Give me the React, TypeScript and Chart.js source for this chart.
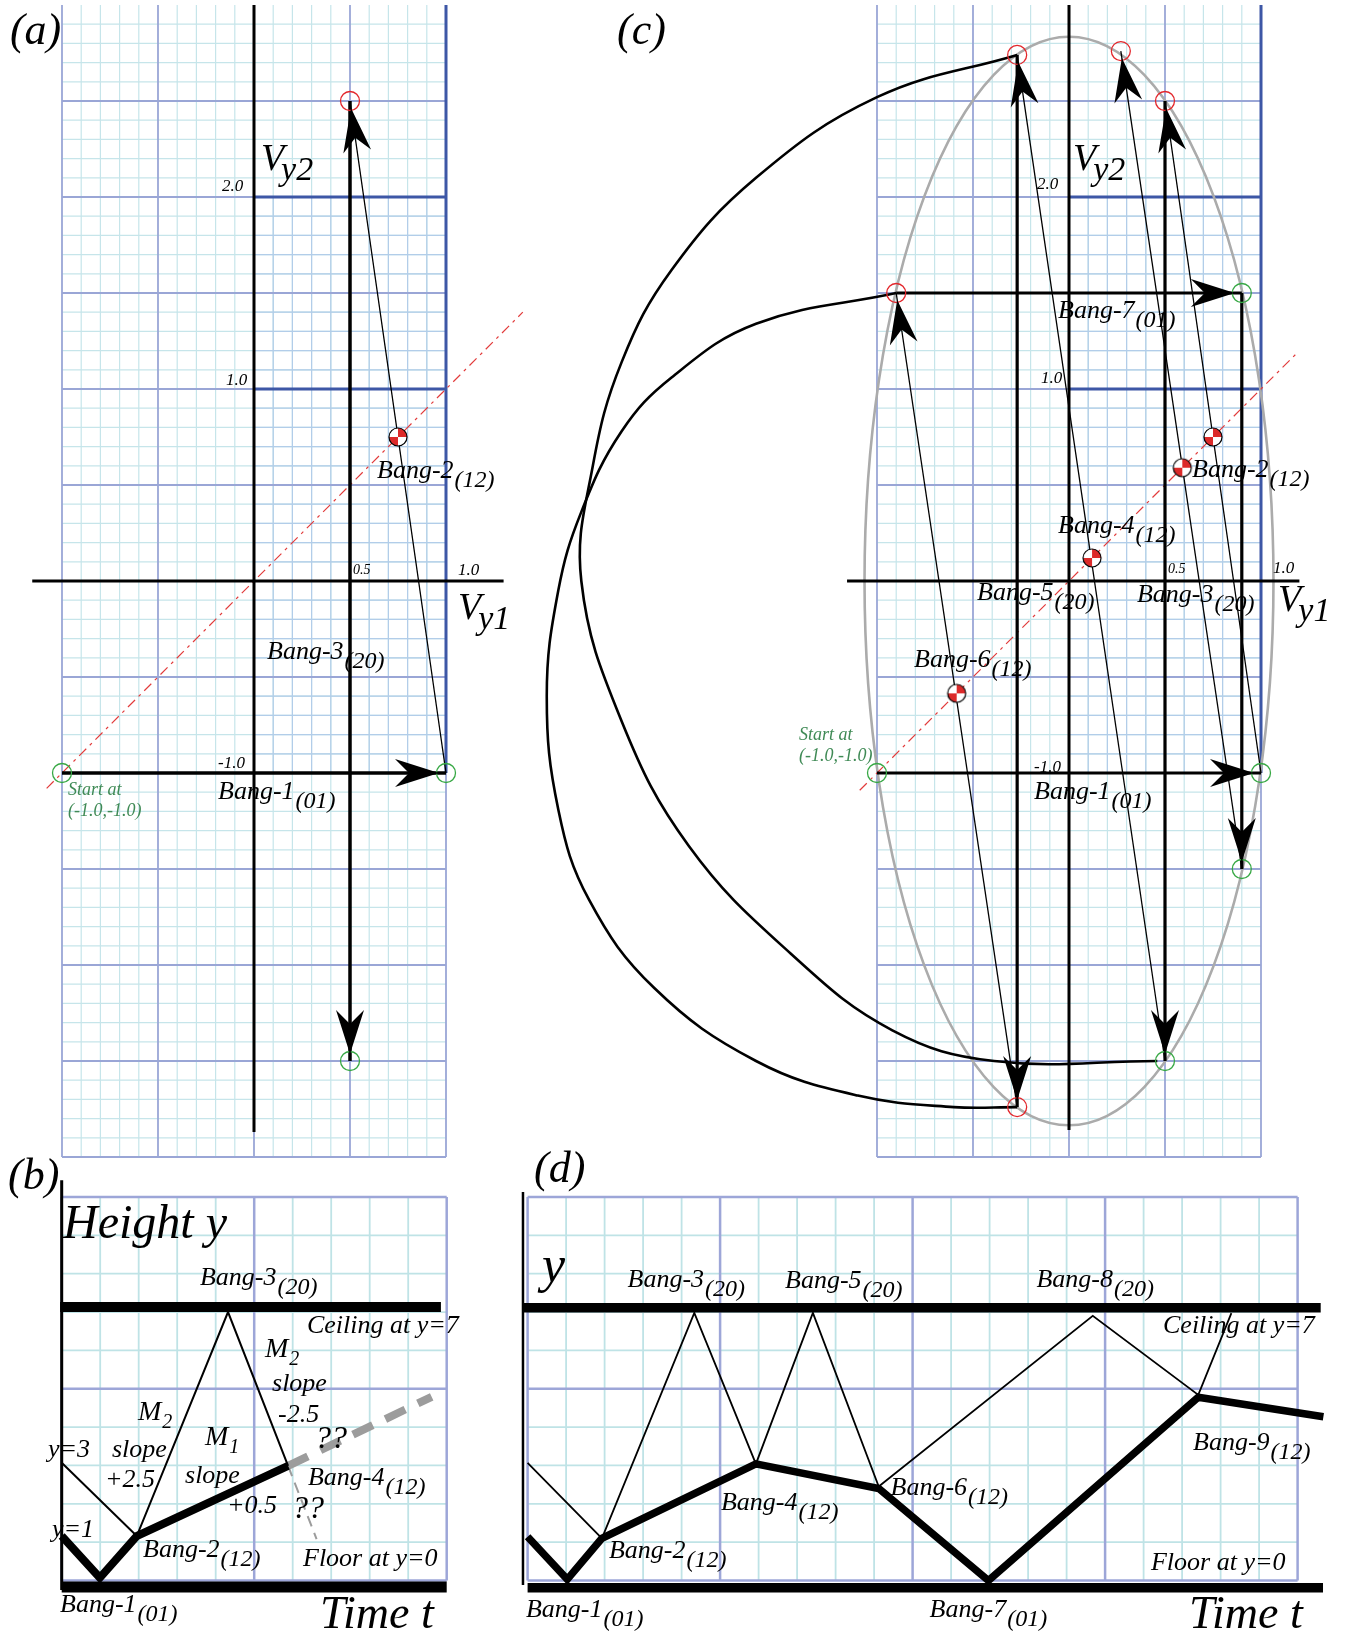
import React, { useEffect, useRef } from 'react';
import { Chart, registerables } from 'chart.js';

Chart.register(...registerables);

const FONT = "'Liberation Serif', 'Times New Roman', serif";
const BLACK = '#000000';
const RED = '#e3262b';
const GREEN = '#37a844';
const DIAG = '#e23b3b';
const ELLIPSE_GRAY = '#ababab';
const GUESS_GRAY = '#9c9c9c';

// ---------------- Panel (a): velocity plane (Vy1, Vy2), first three bangs ----------------
const A_AXIS_VY1 = [[-1.155, 0], [1.3, 0]];
const A_AXIS_VY2 = [[0, 3.0], [0, -2.87]];
const A_DIAGONAL = [[-1.08, -1.08], [1.4, 1.4]];
const A_BANG1 = [[-1, -1], [1, -1]];
const A_BANG2 = [[1, -1], [0.5, 2.5]];
const A_BANG3 = [[0.5, 2.5], [0.5, -2.5]];
const A_CENTRE_OF_MASS = [[0.75, 0.75]];
const A_RED_STATES = [[0.5, 2.5]];
const A_GREEN_STATES = [[-1, -1], [1, -1], [0.5, -2.5]];

// ---------------- Panel (c): velocity plane, bangs 1..9 ----------------
const C_AXIS_VY1 = [[-1.156, 0], [1.2, 0]];
const C_AXIS_VY2 = [[0, 3.0], [0, -2.86]];
const C_DIAGONAL = [[-1.09, -1.09], [1.19, 1.19]];
const C_BANG1 = [[-1, -1], [1, -1]];
const C_BANG2 = [[1, -1], [0.5, 2.5]];
const C_BANG3 = [[0.5, 2.5], [0.5, -2.5]];
const C_BANG4 = [[0.5, -2.5], [-0.27, 2.74]];
const C_BANG5 = [[-0.27, 2.74], [-0.27, -2.74]];
const C_BANG6 = [[-0.27, -2.74], [-0.9, 1.5]];
const C_BANG7 = [[-0.9, 1.5], [0.9, 1.5]];
const C_BANG8 = [[0.9, 1.5], [0.9, -1.5]];
const C_BANG9 = [[0.9, -1.5], [0.27, 2.76]];
const C_CENTRE_OF_MASS = [[0.75, 0.75], [0.12, 0.12], [-0.585, -0.585], [0.59, 0.59]];
const C_RED_STATES = [[0.5, 2.5], [-0.27, 2.74], [0.27, 2.76], [-0.9, 1.5], [-0.27, -2.74]];
const C_GREEN_STATES = [[-1, -1], [1, -1], [0.5, -2.5], [0.9, 1.5], [0.9, -1.5]];
const C_ARC_UPPER = [
  [-0.27, 2.74], [-1.0, 2.52], [-1.63, 2.1], [-2.07, 1.62], [-2.33, 1.14], [-2.48, 0.6],
  [-2.54, 0.0], [-2.33, -0.73], [-1.98, -1.38], [-1.45, -1.94], [-0.92, -2.34], [-0.39, -2.5],
  [0.46, -2.5],
];
const C_ARC_LOWER = [
  [-0.9, 1.5], [-1.63, 1.34], [-2.07, 1.06], [-2.33, 0.78], [-2.54, 0.36],
  [-2.66, -0.05], [-2.72, -0.6], [-2.66, -1.19], [-2.5, -1.66], [-2.16, -2.12], [-1.63, -2.5],
  [-1.1, -2.68], [-0.6, -2.74], [-0.27, -2.74],
];
const C_ENERGY_ELLIPSE = { cx: 0, cy: 0, rx: 1.065, ry: 2.835 };

// ---------------- Panel (b): height vs time, bangs 1..4 ----------------
const B_AXIS_Y = [[0, 10.44], [0, -0.25]];
const B_CEILING = [[-0.04, 7.13], [9.85, 7.13]];
const B_FLOOR = [[0, -0.17], [10, -0.17]];
const B_BALL1 = [[0, 1.16], [0.99, 0.07], [1.95, 1.16], [5.88, 2.99]];
const B_BALL2 = [[0, 3.07], [1.95, 1.16], [4.32, 7.0], [5.88, 2.99]];
const B_BALL1_GUESS = [[5.88, 2.99], [9.61, 4.79]];
const B_BALL2_GUESS = [[5.88, 2.99], [6.62, 1.08]];

// ---------------- Panel (d): height vs time, bangs 1..9 ----------------
const D_AXIS_Y = [[-0.12, 10.13], [-0.12, -0.12]];
const D_CEILING = [[-0.12, 7.11], [20.6, 7.11]];
const D_FLOOR = [[0, -0.19], [20.66, -0.19]];
const D_BALL1 = [
  [0, 1.14], [1.03, 0.03], [1.93, 1.1], [5.93, 3.04], [9.12, 2.4], [11.97, 0.0], [17.42, 4.78], [20.67, 4.27],
];
const D_BALL2 = [
  [0, 3.07], [1.93, 1.1], [4.33, 6.98], [5.93, 3.04], [7.41, 6.98], [9.12, 2.45], [14.68, 6.9], [17.42, 4.84], [18.28, 6.97],
];

// ---------------- Text ----------------
const LABELS_A = [
  { k: 'panel', t: '(a)', x: -1.271, y: 2.797 },
  { k: 'axis', t: 'V', s: 'y2', x: 0.036, y: 2.141 },
  { k: 'tick', t: '2.0', x: -0.167, y: 2.031 },
  { k: 'tick', t: '1.0', x: -0.146, y: 1.021 },
  { k: 'tickS', t: '0.5', x: 0.516, y: 0.036 },
  { k: 'tick', t: '1.0', x: 1.0625, y: 0.031 },
  { k: 'axis', t: 'V', s: 'y1', x: 1.0625, y: -0.198 },
  { k: 'bang', t: 'Bang-2', s: '(12)', x: 0.641, y: 0.536 },
  { k: 'bang', t: 'Bang-3', s: '(20)', x: 0.068, y: -0.406 },
  { k: 'tick', t: '-1.0', x: -0.1875, y: -0.974 },
  { k: 'bang', t: 'Bang-1', s: '(01)', x: -0.1875, y: -1.135 },
  { k: 'start', t: 'Start at', x: -0.969, y: -1.115 },
  { k: 'start', t: '(-1.0,-1.0)', x: -0.969, y: -1.224 },
];
const LABELS_C = [
  { k: 'panel', t: '(c)', x: -2.354, y: 2.797 },
  { k: 'axis', t: 'V', s: 'y2', x: 0.021, y: 2.141 },
  { k: 'tick', t: '2.0', x: -0.167, y: 2.042 },
  { k: 'tick', t: '1.0', x: -0.146, y: 1.031 },
  { k: 'bang', t: 'Bang-7', s: '(01)', x: -0.057, y: 1.37 },
  { k: 'bang', t: 'Bang-2', s: '(12)', x: 0.641, y: 0.542 },
  { k: 'bang', t: 'Bang-4', s: '(12)', x: -0.057, y: 0.25 },
  { k: 'tickS', t: '0.5', x: 0.516, y: 0.042 },
  { k: 'tick', t: '1.0', x: 1.0625, y: 0.042 },
  { k: 'bang', t: 'Bang-5', s: '(20)', x: -0.479, y: -0.099 },
  { k: 'bang', t: 'Bang-3', s: '(20)', x: 0.354, y: -0.109 },
  { k: 'axis', t: 'V', s: 'y1', x: 1.089, y: -0.156 },
  { k: 'bang', t: 'Bang-6', s: '(12)', x: -0.807, y: -0.448 },
  { k: 'start', t: 'Start at', x: -1.406, y: -0.828 },
  { k: 'start', t: '(-1.0,-1.0)', x: -1.406, y: -0.9375 },
  { k: 'tick', t: '-1.0', x: -0.182, y: -0.995 },
  { k: 'bang', t: 'Bang-1', s: '(01)', x: -0.182, y: -1.135 },
];
const LABELS_B = [
  { k: 'panel', t: '(b)', x: -1.395, y: 10.21 },
  { k: 'big', t: 'Height y', x: 0.034, y: 8.93 },
  { k: 'bang', t: 'Bang-3', s: '(20)', x: 3.592, y: 7.705 },
  { k: 'note', t: 'Ceiling at y=7', x: 6.371, y: 6.454 },
  { k: 'm', t: 'M', s: '2', x: 5.281, y: 5.828 },
  { k: 'note', t: 'slope', x: 5.463, y: 4.941 },
  { k: 'note', t: '-2.5', x: 5.618, y: 4.133 },
  { k: 'q', t: '??', x: 6.579, y: 3.455 },
  { k: 'm', t: 'M', s: '2', x: 1.982, y: 4.185 },
  { k: 'note', t: 'slope', x: 1.306, y: 3.22 },
  { k: 'note', t: '+2.5', x: 1.125, y: 2.438 },
  { k: 'm', t: 'M', s: '1', x: 3.722, y: 3.533 },
  { k: 'note', t: 'slope', x: 3.203, y: 2.542 },
  { k: 'note', t: '+0.5', x: 4.294, y: 1.76 },
  { k: 'note', t: 'y=3', x: -0.356, y: 3.22 },
  { k: 'bang', t: 'Bang-4', s: '(12)', x: 6.397, y: 2.49 },
  { k: 'q', t: '??', x: 5.982, y: 1.63 },
  { k: 'note', t: 'y=1', x: -0.252, y: 1.134 },
  { k: 'bang', t: 'Bang-2', s: '(12)', x: 2.112, y: 0.613 },
  { k: 'note', t: 'Floor at y=0', x: 6.268, y: 0.378 },
  { k: 'bang', t: 'Bang-1', s: '(01)', x: -0.044, y: -0.821 },
  { k: 'time', t: 'Time t', x: 6.709, y: -1.239 },
];
const LABELS_D = [
  { k: 'panel', t: '(d)', x: 0.166, y: 10.39 },
  { k: 'ylab', t: 'y', x: 0.374, y: 7.78 },
  { k: 'bang', t: 'Bang-3', s: '(20)', x: 2.597, y: 7.653 },
  { k: 'bang', t: 'Bang-5', s: '(20)', x: 6.686, y: 7.627 },
  { k: 'bang', t: 'Bang-8', s: '(20)', x: 13.218, y: 7.653 },
  { k: 'note', t: 'Ceiling at y=7', x: 16.504, y: 6.454 },
  { k: 'bang', t: 'Bang-9', s: '(12)', x: 17.283, y: 3.403 },
  { k: 'bang', t: 'Bang-6', s: '(12)', x: 9.426, y: 2.229 },
  { k: 'bang', t: 'Bang-4', s: '(12)', x: 5.023, y: 1.838 },
  { k: 'bang', t: 'Bang-2', s: '(12)', x: 2.114, y: 0.587 },
  { k: 'note', t: 'Floor at y=0', x: 16.192, y: 0.274 },
  { k: 'bang', t: 'Bang-1', s: '(01)', x: -0.042, y: -0.952 },
  { k: 'bang', t: 'Bang-7', s: '(01)', x: 10.442, y: -0.952 },
  { k: 'time', t: 'Time t', x: 17.179, y: -1.239 },
];

const KINDS: any = {
  panel: { size: 44 },
  axis: { size: 38, sub: 34, dx: -3, dy: 10 },
  tick: { size: 17 },
  tickS: { size: 14 },
  bang: { size: 26, sub: 24, dx: 1, dy: 9 },
  start: { size: 18, color: '#3f8a55' },
  note: { size: 26 },
  m: { size: 28, sub: 20, dx: 1, dy: 8 },
  q: { size: 32 },
  big: { size: 48 },
  time: { size: 46 },
  ylab: { size: 52 },
};

// ---------------- Layout (pixels) ----------------
const LAYOUT: any = {
  a: { left: 0, top: 0, w: 525, h: 1160, ox: 254, oy: 581, ux: 192, uy: 192 },
  c: { left: 520, top: 0, w: 828, h: 1160, ox: 549, oy: 581, ux: 192, uy: 192 },
  b: { left: 0, top: 1150, w: 520, h: 488, ox: 61.7, oy: 430.5, ux: 38.5, uy: 38.35 },
  d: { left: 505, top: 1140, w: 843, h: 498, ox: 22.6, oy: 440.5, ux: 38.5, uy: 38.35 },
};

const PAPER_VEL = {
  x0: -1, x1: 1, y0: -3, y1: 3, minor: 0.1, major: 0.5, skipTop: true,
  minorColor: '#c6e5ea', minorW: 1.2, majorColor: '#9aa6d6', majorW: 1.8,
  accent: { x0: 0, x1: 1, y0: -1, y1: 2, color: '#b2cde9' },
  dark: [[1, -1, 1, 3], [0, 1, 1, 1], [0, 2, 1, 2]], darkColor: '#3d57a6', darkW: 3,
};
const PAPER_B = {
  x0: 0, x1: 10, y0: 0, y1: 10, minor: 1, major: 5,
  minorColor: '#bfe3e6', minorW: 1.8, majorColor: '#9da6d8', majorW: 2.5,
};
const PAPER_D = { ...PAPER_B, x1: 20 };

// ---------------- helpers ----------------
const P = (arr: number[][]) => arr.map(([x, y]) => ({ x, y }));

function line(data: number[][], width: number, color = BLACK, extra: any = {}) {
  return {
    data: P(data), showLine: true, borderColor: color, borderWidth: width,
    pointRadius: 0, pointHoverRadius: 0, fill: false, tension: 0, clip: false,
    borderCapStyle: 'butt', borderJoinStyle: 'miter', ...extra,
  };
}
function rings(data: number[][], color: string) {
  return {
    data: P(data), showLine: false, pointStyle: 'circle', pointRadius: 9.5,
    pointHoverRadius: 9.5, pointBorderColor: color, pointBackgroundColor: 'rgba(0,0,0,0)',
    pointBorderWidth: 1.3, clip: false,
  };
}
function checkers(data: number[][], img: HTMLCanvasElement) {
  return { data: P(data), showLine: false, pointStyle: img, pointRadius: 9, clip: false };
}

function makeChecker(r: number) {
  const c = document.createElement('canvas');
  const s = Math.ceil(2 * r + 4);
  c.width = s; c.height = s;
  const g = c.getContext('2d') as CanvasRenderingContext2D;
  const m = s / 2;
  g.fillStyle = '#ffffff';
  g.beginPath(); g.arc(m, m, r, 0, Math.PI * 2); g.fill();
  g.fillStyle = '#dc2a2a';
  g.beginPath(); g.moveTo(m, m); g.arc(m, m, r, -Math.PI / 2, 0); g.closePath(); g.fill();
  g.beginPath(); g.moveTo(m, m); g.arc(m, m, r, Math.PI / 2, Math.PI); g.closePath(); g.fill();
  g.strokeStyle = '#000'; g.lineWidth = 1.2;
  g.beginPath(); g.arc(m, m, r, 0, Math.PI * 2); g.stroke();
  return c;
}

function drawPaper(ctx: CanvasRenderingContext2D, xs: any, ys: any, g: any) {
  const X = (v: number) => xs.getPixelForValue(v);
  const Y = (v: number) => ys.getPixelForValue(v);
  const seg = (x1: number, y1: number, x2: number, y2: number, color: string, w: number) => {
    ctx.beginPath(); ctx.strokeStyle = color; ctx.lineWidth = w;
    ctx.moveTo(X(x1), Y(y1)); ctx.lineTo(X(x2), Y(y2)); ctx.stroke();
  };
  const nx = Math.round((g.x1 - g.x0) / g.minor);
  const ny = Math.round((g.y1 - g.y0) / g.minor);
  const per = Math.round(g.major / g.minor);
  for (let i = 0; i <= nx; i++) if (i % per) { const v = g.x0 + i * g.minor; seg(v, g.y0, v, g.y1, g.minorColor, g.minorW); }
  for (let j = 0; j <= ny; j++) if (j % per) { const v = g.y0 + j * g.minor; seg(g.x0, v, g.x1, v, g.minorColor, g.minorW); }
  if (g.accent) {
    const a = g.accent;
    for (let i = 0; i <= nx; i++) {
      const v = g.x0 + i * g.minor;
      if (i % per && v > a.x0 - 1e-6 && v < a.x1 + 1e-6) seg(v, a.y0, v, a.y1, a.color, g.minorW);
    }
    for (let j = 0; j <= ny; j++) {
      const v = g.y0 + j * g.minor;
      if (j % per && v > a.y0 - 1e-6 && v < a.y1 + 1e-6) seg(a.x0, v, a.x1, v, a.color, g.minorW);
    }
  }
  for (let i = 0; i <= nx; i += per) { const v = g.x0 + i * g.minor; seg(v, g.y0, v, g.y1, g.majorColor, g.majorW); }
  for (let j = 0; j <= ny; j += per) {
    if (g.skipTop && j === ny) continue;
    const v = g.y0 + j * g.minor; seg(g.x0, v, g.x1, v, g.majorColor, g.majorW);
  }
  (g.dark || []).forEach((d: number[]) => seg(d[0], d[1], d[2], d[3], g.darkColor, g.darkW));
}

function drawArrowHead(ctx: CanvasRenderingContext2D, x1: number, y1: number, x2: number, y2: number) {
  const back = 7, len = 44, half = 14, notch = 30;
  const dx = x2 - x1, dy = y2 - y1;
  const L = Math.hypot(dx, dy) || 1;
  const ux = dx / L, uy = dy / L, nx = -uy, ny = ux;
  const tx = x2 - ux * back, ty = y2 - uy * back;
  const bx = tx - ux * len, by = ty - uy * len;
  ctx.beginPath();
  ctx.moveTo(tx, ty);
  ctx.lineTo(bx + nx * half, by + ny * half);
  ctx.lineTo(tx - ux * notch, ty - uy * notch);
  ctx.lineTo(bx - nx * half, by - ny * half);
  ctx.closePath();
  ctx.fillStyle = BLACK;
  ctx.fill();
}

function decorPlugin(paper: any, labels: any[], ellipse: any) {
  return {
    id: 'decor',
    beforeDatasetsDraw(chart: any) {
      const { ctx } = chart;
      const xs = chart.scales.x, ys = chart.scales.y;
      ctx.save();
      drawPaper(ctx, xs, ys, paper);
      if (ellipse) {
        const cx = xs.getPixelForValue(ellipse.cx), cy = ys.getPixelForValue(ellipse.cy);
        const rx = Math.abs(xs.getPixelForValue(ellipse.cx + ellipse.rx) - cx);
        const ry = Math.abs(ys.getPixelForValue(ellipse.cy + ellipse.ry) - cy);
        ctx.beginPath(); ctx.ellipse(cx, cy, rx, ry, 0, 0, Math.PI * 2);
        ctx.strokeStyle = ELLIPSE_GRAY; ctx.lineWidth = 2.6; ctx.stroke();
      }
      ctx.restore();
    },
    afterDatasetsDraw(chart: any) {
      const { ctx } = chart;
      const xs = chart.scales.x, ys = chart.scales.y;
      ctx.save();
      chart.data.datasets.forEach((ds: any, i: number) => {
        if (!ds.arrow) return;
        const pts = chart.getDatasetMeta(i).data;
        const a = pts[pts.length - 2], b = pts[pts.length - 1];
        drawArrowHead(ctx, a.x, a.y, b.x, b.y);
      });
      ctx.textAlign = 'left';
      ctx.textBaseline = 'alphabetic';
      labels.forEach((l: any) => {
        const k = KINDS[l.k];
        const px = xs.getPixelForValue(l.x), py = ys.getPixelForValue(l.y);
        ctx.fillStyle = k.color || BLACK;
        ctx.font = `italic ${k.size}px ${FONT}`;
        ctx.fillText(l.t, px, py);
        if (l.s) {
          const w = ctx.measureText(l.t).width;
          ctx.font = `italic ${k.sub}px ${FONT}`;
          ctx.fillText(l.s, px + w + k.dx, py + k.dy);
        }
      });
      ctx.restore();
    },
  };
}

function buildChart(canvas: HTMLCanvasElement, lay: any, datasets: any[], paper: any, labels: any[], ellipse: any) {
  const xmin = -lay.ox / lay.ux, xmax = (lay.w - lay.ox) / lay.ux;
  const ymax = lay.oy / lay.uy, ymin = (lay.oy - lay.h) / lay.uy;
  return new Chart(canvas, {
    type: 'scatter',
    data: { datasets },
    options: {
      animation: false,
      responsive: false,
      maintainAspectRatio: false,
      events: [],
      layout: { padding: 0, autoPadding: false },
      plugins: { legend: { display: false }, tooltip: { enabled: false } },
      scales: {
        x: { type: 'linear', min: xmin, max: xmax, display: false, bounds: 'data', offset: false },
        y: { type: 'linear', min: ymin, max: ymax, display: false, bounds: 'data', offset: false },
      },
    },
    plugins: [decorPlugin(paper, labels, ellipse)],
  } as any);
}

export default function App() {
  const refA = useRef<HTMLCanvasElement>(null);
  const refB = useRef<HTMLCanvasElement>(null);
  const refC = useRef<HTMLCanvasElement>(null);
  const refD = useRef<HTMLCanvasElement>(null);

  useEffect(() => {
    const chk = makeChecker(9);
    const dashDiag = { borderDash: [10, 5, 3, 5] };
    const arrow = { arrow: true };

    const dsA = [
      rings(A_RED_STATES, RED),
      rings(A_GREEN_STATES, GREEN),
      checkers(A_CENTRE_OF_MASS, chk),
      line(A_BANG1, 3.5, BLACK, arrow),
      line(A_BANG3, 3.5, BLACK, arrow),
      line(A_BANG2, 1.3, BLACK, arrow),
      line(A_AXIS_VY1, 3),
      line(A_AXIS_VY2, 3),
      line(A_DIAGONAL, 1.2, DIAG, dashDiag),
    ];
    const dsC = [
      rings(C_RED_STATES, RED),
      rings(C_GREEN_STATES, GREEN),
      checkers(C_CENTRE_OF_MASS, chk),
      line(C_BANG1, 3.2, BLACK, arrow),
      line(C_BANG3, 3.2, BLACK, arrow),
      line(C_BANG5, 3.2, BLACK, arrow),
      line(C_BANG7, 3.2, BLACK, arrow),
      line(C_BANG8, 3.2, BLACK, arrow),
      line(C_BANG2, 1.3, BLACK, arrow),
      line(C_BANG4, 1.3, BLACK, arrow),
      line(C_BANG6, 1.3, BLACK, arrow),
      line(C_BANG9, 1.3, BLACK, arrow),
      line(C_ARC_UPPER, 2.6, BLACK, { tension: 0.4, borderJoinStyle: 'round' }),
      line(C_ARC_LOWER, 2.6, BLACK, { tension: 0.4, borderJoinStyle: 'round' }),
      line(C_AXIS_VY1, 3),
      line(C_AXIS_VY2, 3),
      line(C_DIAGONAL, 1.2, DIAG, dashDiag),
    ];
    const dsB = [
      line(B_BALL1, 8),
      line(B_BALL2, 2),
      line(B_BALL1_GUESS, 8, GUESS_GRAY, { borderDash: [22, 14] }),
      line(B_BALL2_GUESS, 2, GUESS_GRAY, { borderDash: [11, 7] }),
      line(B_CEILING, 10),
      line(B_FLOOR, 11),
      line(B_AXIS_Y, 3),
    ];
    const dsD = [
      line(D_BALL1, 7.5),
      line(D_BALL2, 1.8),
      line(D_CEILING, 9.5),
      line(D_FLOOR, 9.5),
      line(D_AXIS_Y, 2.5),
    ];

    const charts = [
      buildChart(refA.current as HTMLCanvasElement, LAYOUT.a, dsA, PAPER_VEL, LABELS_A, null),
      buildChart(refC.current as HTMLCanvasElement, LAYOUT.c, dsC, PAPER_VEL, LABELS_C, C_ENERGY_ELLIPSE),
      buildChart(refB.current as HTMLCanvasElement, LAYOUT.b, dsB, PAPER_B, LABELS_B, null),
      buildChart(refD.current as HTMLCanvasElement, LAYOUT.d, dsD, PAPER_D, LABELS_D, null),
    ];
    return () => charts.forEach((c) => c.destroy());
  }, []);

  const cs = (l: any): React.CSSProperties => ({
    position: 'absolute', left: l.left, top: l.top, width: l.w, height: l.h,
  });

  return (
    <div style={{ position: 'absolute', left: 0, top: 0, width: 1348, height: 1638, background: '#ffffff', overflow: 'hidden' }}>
      <canvas ref={refA} width={LAYOUT.a.w} height={LAYOUT.a.h} style={cs(LAYOUT.a)} />
      <canvas ref={refC} width={LAYOUT.c.w} height={LAYOUT.c.h} style={cs(LAYOUT.c)} />
      <canvas ref={refB} width={LAYOUT.b.w} height={LAYOUT.b.h} style={cs(LAYOUT.b)} />
      <canvas ref={refD} width={LAYOUT.d.w} height={LAYOUT.d.h} style={cs(LAYOUT.d)} />
    </div>
  );
}
